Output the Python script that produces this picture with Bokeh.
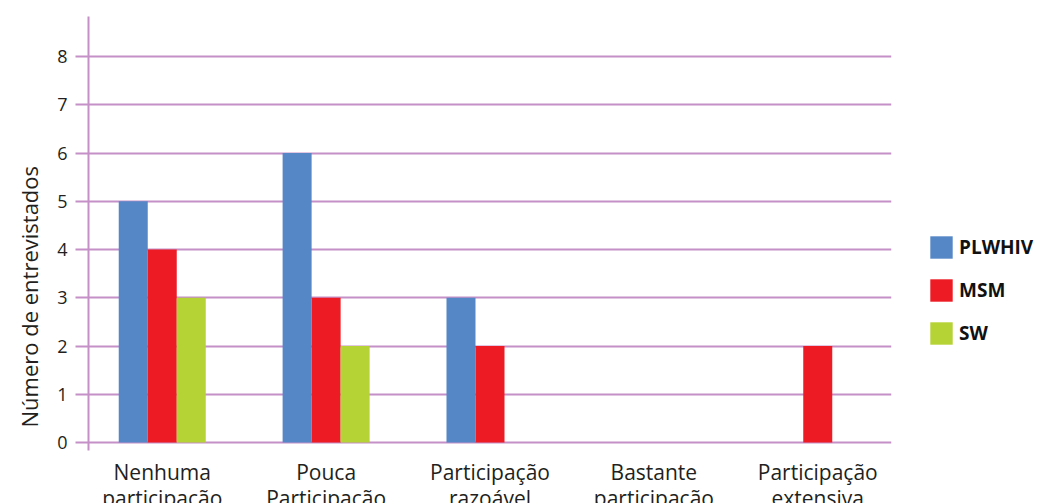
from bokeh.plotting import figure
from bokeh.models import ColumnDataSource, FactorRange, FixedTicker, Legend, LegendItem, Title
from bokeh.transform import dodge
from bokeh.embed import file_html
from bokeh.resources import INLINE

# Participation levels and interview counts per group
categories = ["Nenhuma\nparticipação", "Pouca\nParticipação", "Participação\nrazoável",
              "Bastante\nparticipação", "Participação\nextensiva"]
plwhiv = [5, 6, 3, 0, 0]
msm = [4, 3, 2, 0, 2]
sw = [3, 2, 0, 0, 0]
series_names = ["PLWHIV", "MSM", "SW"]
y_ticks = [0, 1, 2, 3, 4, 5, 6, 7, 8]

colors = ["#5587c7", "#ed1c24", "#b5d334"]
grid_color = "#c590c8"
font = "Open Sans"
text_color = "#231f20"

source = ColumnDataSource(data=dict(cat=categories, PLWHIV=plwhiv, MSM=msm, SW=sw))

x_range = FactorRange(*categories, range_padding=-0.05, range_padding_units="absolute")

p = figure(x_range=x_range, y_range=(-0.166, 8.83),
           frame_width=803, frame_height=434,
           min_border_left=88, min_border_right=154, min_border_top=16, min_border_bottom=53,
           output_backend="svg", toolbar_location=None, background_fill_color="white",
           border_fill_color="white")
p.outline_line_color = None

bar_w = 0.177
offsets = [-bar_w, 0.0, bar_w]
renderers = []
for name, off, col in zip(series_names, offsets, colors):
    r = p.vbar(x=dodge("cat", off, range=p.x_range), top=name, bottom=0, width=bar_w,
               source=source, fill_color=col, line_color=None)
    renderers.append(r)

# Grid
p.xgrid.grid_line_color = None
p.ygrid.grid_line_color = grid_color
p.ygrid.grid_line_width = 2
p.ygrid.ticker = FixedTicker(ticks=y_ticks)
p.ygrid.level = "underlay"

# Y axis
ya = p.yaxis[0]
ya.ticker = FixedTicker(ticks=y_ticks)
ya.axis_line_color = grid_color
ya.axis_line_width = 2
ya.major_tick_line_color = grid_color
ya.major_tick_line_width = 2
ya.major_tick_out = 13
ya.major_tick_in = 0
ya.minor_tick_line_color = None
ya.major_label_standoff = 8
ya.major_label_text_font = font
ya.major_label_text_font_size = "18px"
ya.major_label_text_color = text_color

# X axis
xa = p.xaxis[0]
xa.axis_line_color = None
xa.major_tick_line_color = None
xa.minor_tick_line_color = None
xa.major_label_standoff = 1
xa.major_label_text_font = font
xa.major_label_text_font_size = "21px"
xa.major_label_text_line_height = 0.95
xa.major_label_text_color = text_color
xa.major_label_orientation = "horizontal"

# Vertical axis title, set in the left panel
p.add_layout(Title(text="Número de entrevistados", align="left", offset=23, standoff=22,
                   text_font=font, text_font_size="22px", text_font_style="normal",
                   text_color=text_color), "left")

legend = Legend(items=[LegendItem(label=n, renderers=[r]) for n, r in zip(series_names, renderers)],
                location=(36, 103), orientation="vertical",
                glyph_width=28, glyph_height=28, label_height=22, label_standoff=4,
                spacing=15, padding=0, margin=0,
                border_line_color=None, background_fill_alpha=0,
                label_text_font=font, label_text_font_size="19px",
                label_text_font_style="bold", label_text_color="#111111")
p.add_layout(legend, "right")

open("out.html", "w").write(file_html(p, INLINE))
